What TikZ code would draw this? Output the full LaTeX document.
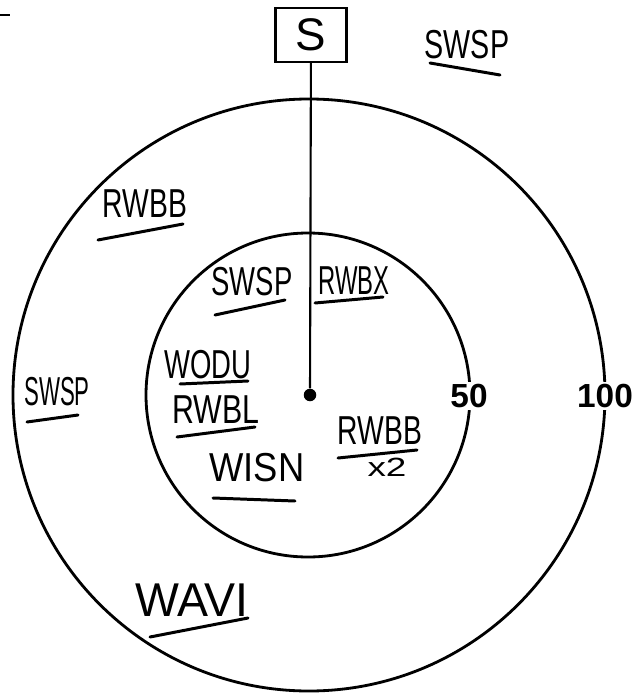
\documentclass[tikz,border=0pt]{standalone}
\usepackage{fontspec}
\setmainfont{Liberation Sans}
\usepackage{tikz}

\newcommand{\hw}[2][0.8]{\scalebox{#1}[1]{#2}}

\begin{document}
\begin{tikzpicture}[x=0.02cm,y=-0.02cm]
	\tikzset{
		hand/.style={font=\fontsize{23}{25}\selectfont,inner sep=0pt},
		ring/.style={line width=1.6pt},
		uline/.style={line width=1.7pt,line cap=round},
		dist/.style={font=\fontsize{19}{21}\selectfont\bfseries,fill=white,inner sep=1pt}
	}
	\useasboundingbox (0,0) rectangle (634,696);
	
	\draw[line width=1.5pt] (0,15) -- (10,15);
	
	\node[circle,fill,inner sep=0pt,minimum size=0.25cm] (O) at (310,395) {};
	\node[draw,line width=1.2pt,minimum width=1.42cm,minimum height=1.08cm,hand,font=\fontsize{26}{28}\selectfont] (S) at (311,35) {S};
	
	\draw[ring] (309,395) circle (296);
	\draw[ring] (308,395) circle (162);
	\draw[line width=1.2pt] (S) -- (O);
	
	\node[dist] (d50) at (469,396) {50};
	\node[dist] (d100) at (605,396) {100};
	
	\node[hand] (swspA) at (467,45) {\hw[0.71]{SWSP}};
	\draw[uline] (430,63) -- (500,75);
	
	\node[hand] (rwbbA) at (145,204) {\hw[0.7]{RWBB}};
	\draw[uline] (98,240) -- (183,224);
	
	\node[hand] (swspB) at (252,282) {\hw[0.68]{SWSP}};
	\draw[uline] (215,315) -- (285,300);
	
	\node[hand] (rwbx) at (354,281) {\hw[0.59]{RWBX}};
	\draw[uline] (315,303) -- (383,297);
	
	\node[hand] (swspC) at (57,392) {\hw[0.55]{SWSP}};
	\draw[uline] (27,422) -- (78,415);
	
	\node[hand] (wodu) at (208,365) {\hw[0.68]{WODU}};
	\draw[uline] (180,384) -- (248,381);
	
	\node[hand] (rwbl) at (216,410) {\hw[0.75]{RWBL}};
	\draw[uline] (177,437) -- (255,427);
	
	\node[hand] (wisn) at (257,468) {\hw[0.9]{WISN}};
	\draw[uline] (213,498) -- (295,501);
	
	\node[hand] (rwbbB) at (380,431) {\hw[0.7]{RWBB}};
	\draw[uline] (338,458) -- (417,450);
	\node[hand,font=\fontsize{15}{17}\selectfont] (times) at (387,467) {\hw[1.4]{x2}};
	
	\node[hand,font=\fontsize{27}{29}\selectfont] (wavi) at (192,600) {\hw[0.98]{WAVI}};
	\draw[uline] (150,637) -- (248,618);
	
\end{tikzpicture}
\end{document}
